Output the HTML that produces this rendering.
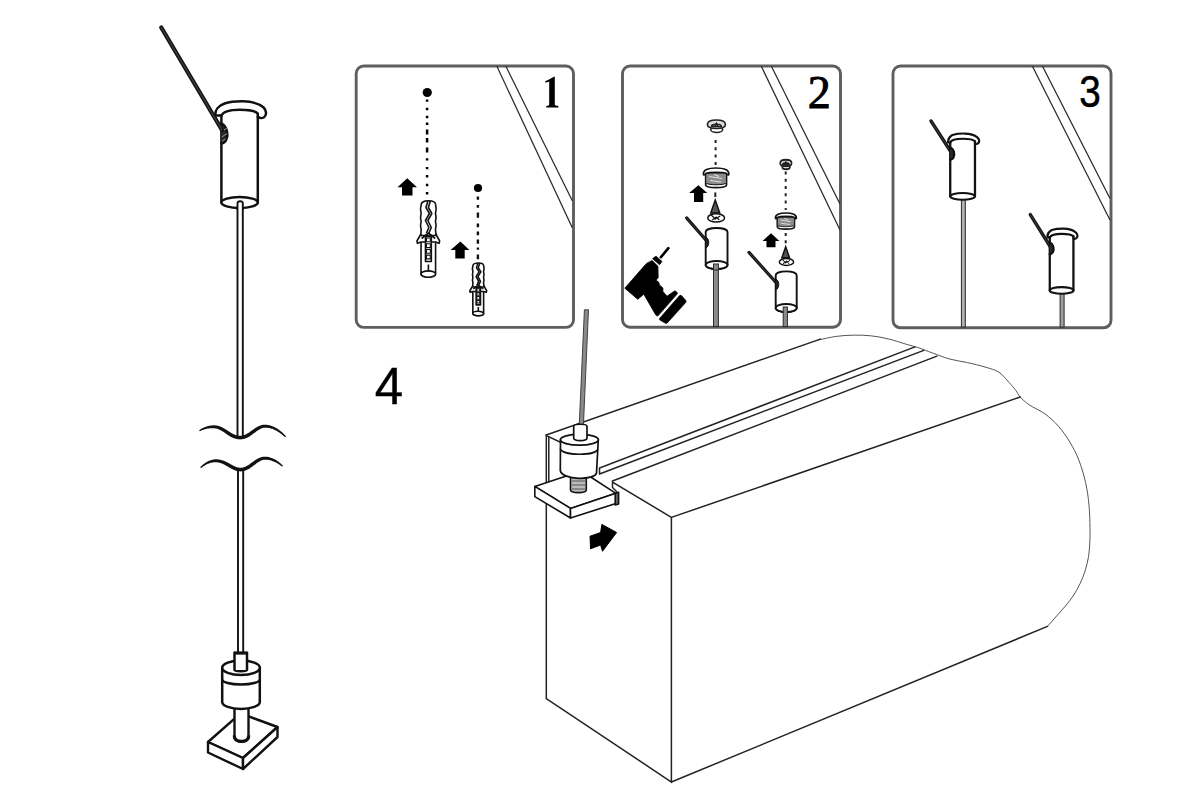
<!DOCTYPE html>
<html><head><meta charset="utf-8"><style>
html,body{margin:0;padding:0;background:#fff;}
body{width:1200px;height:800px;overflow:hidden;font-family:"Liberation Sans",sans-serif;}
svg{display:block;}
</style></head><body>
<svg width="1200" height="800" viewBox="0 0 1200 800">
<rect width="1200" height="800" fill="#fff"/>
<path d="M 237.5,437 L 237.5,203 C 237.5,200.5 242.8,200.5 242.8,203 L 242.8,437" stroke="#111" stroke-width="1.9" fill="none"/>
<g transform="translate(239.6,110) scale(1.0,1.0)" stroke="#111" stroke-width="2.50" fill="#fff" stroke-linejoin="round" stroke-linecap="round"><path d="M -18.2,4 L -18.2,92.5 A 18.2,5.5 0 0 0 18.2,92.5 L 18.2,3.5 Z" stroke="none"/><path d="M -18.2,5.5 L -18.2,92.5 M 18.2,3.7 L 18.2,92.5" fill="none"/><ellipse cx="0" cy="92.5" rx="18.2" ry="5.5"/><path d="M -18.2,5.6 L -24.30,5.6 C -24.80,0 -21.00,-4.5 -15,-6.5 C -9,-8.5 -2,-8.8 3,-8.75 C 12,-8.6 20.00,-6 24.00,-2.5 C 27.00,0.5 27.00,4.5 25.00,6.8 C 23.50,8.5 20.50,8.5 18.2,6.9" fill="none"/><path d="M -18.2,5.5 C -16,0.8 -8,-0.3 0,-0.3 C 8,-0.3 16,0.8 18.2,3.75" fill="none"/><path d="M -18.4,13.5 C -12.5,16 -11,25 -13.5,30 C -15,32.5 -17,33.5 -18.4,33" fill="#2a2a2a"/><path d="M -17.2,21 L -13.2,18.5 M -17.2,26.5 L -12.8,23.8 M -17,31 L -14.2,29" stroke="#bbb" stroke-width="0.8" fill="none"/></g>
<line x1="161.25" y1="27.5" x2="222" y2="130" stroke="#151515" stroke-width="4.3" stroke-linecap="round"/>
<line x1="161.25" y1="27.5" x2="222" y2="130" stroke="#444" stroke-width="1.07" stroke-linecap="round"/>
<path d="M 237.5,210 L 237.5,203.5 C 237.5,200.5 242.8,200.5 242.8,203.5 L 242.8,210" stroke="#111" stroke-width="1.9" fill="#fff"/>
<path d="M 199.70,431.32 L 200.29,431.06 L 200.85,430.80 L 201.41,430.55 L 201.96,430.32 L 202.51,430.10 L 203.04,429.89 L 203.58,429.70 L 204.10,429.52 L 204.62,429.36 L 205.14,429.20 L 205.65,429.06 L 206.15,428.93 L 206.65,428.81 L 207.15,428.71 L 207.64,428.61 L 208.12,428.53 L 208.60,428.45 L 209.07,428.39 L 209.54,428.34 L 210.01,428.29 L 210.47,428.26 L 210.93,428.23 L 211.38,428.21 L 211.83,428.20 L 212.27,428.20 L 212.71,428.21 L 213.15,428.22 L 213.58,428.25 L 214.01,428.27 L 214.38,428.30 L 215.28,428.42 L 216.14,428.58 L 216.98,428.79 L 217.80,429.04 L 218.61,429.34 L 219.40,429.67 L 220.18,430.05 L 220.95,430.45 L 221.71,430.88 L 222.48,431.34 L 223.23,431.83 L 223.99,432.32 L 224.75,432.84 L 225.52,433.36 L 226.29,433.89 L 227.06,434.43 L 227.85,434.96 L 228.65,435.48 L 229.46,435.99 L 230.29,436.49 L 231.14,436.97 L 232.01,437.42 L 232.91,437.83 L 233.83,438.22 L 234.78,438.55 L 235.77,438.84 L 236.78,439.08 L 237.82,439.25 L 238.90,439.36 L 240.00,439.40 L 241.12,439.36 L 242.21,439.23 L 243.27,439.04 L 244.30,438.77 L 245.30,438.44 L 246.27,438.06 L 247.20,437.64 L 248.11,437.17 L 249.00,436.67 L 249.86,436.14 L 250.70,435.60 L 251.52,435.03 L 252.33,434.45 L 253.12,433.87 L 253.90,433.29 L 254.66,432.71 L 255.42,432.15 L 256.17,431.60 L 256.91,431.06 L 257.65,430.56 L 258.38,430.08 L 259.11,429.63 L 259.84,429.22 L 260.57,428.86 L 261.29,428.53 L 262.02,428.26 L 262.75,428.04 L 263.49,427.87 L 264.24,427.76 L 265.02,427.71 L 265.74,427.70 L 266.47,427.73 L 267.20,427.78 L 267.92,427.86 L 268.65,427.96 L 269.36,428.09 L 270.08,428.25 L 270.78,428.43 L 271.49,428.64 L 272.19,428.87 L 272.89,429.12 L 273.58,429.39 L 274.27,429.69 L 274.95,430.01 L 275.63,430.35 L 276.31,430.70 L 276.98,431.08 L 277.64,431.47 L 278.30,431.89 L 278.95,432.32 L 279.60,432.76 L 280.24,433.22 L 280.88,433.69 L 281.50,434.18 L 282.13,434.68 L 282.74,435.19 L 283.35,435.71 L 283.96,436.24 L 284.56,436.78 L 285.17,437.32 L 286.03,436.48 L 285.51,435.85 L 284.96,435.23 L 284.40,434.62 L 283.83,434.02 L 283.24,433.44 L 282.65,432.86 L 282.04,432.30 L 281.42,431.75 L 280.79,431.21 L 280.14,430.69 L 279.49,430.18 L 278.83,429.69 L 278.15,429.22 L 277.46,428.77 L 276.77,428.33 L 276.06,427.91 L 275.34,427.52 L 274.61,427.14 L 273.87,426.79 L 273.11,426.46 L 272.35,426.15 L 271.57,425.88 L 270.79,425.62 L 269.99,425.40 L 269.18,425.20 L 268.37,425.04 L 267.54,424.90 L 266.70,424.80 L 265.86,424.73 L 264.98,424.69 L 263.98,424.71 L 262.99,424.82 L 262.02,425.00 L 261.07,425.25 L 260.14,425.55 L 259.24,425.91 L 258.36,426.32 L 257.50,426.77 L 256.66,427.25 L 255.83,427.76 L 255.02,428.28 L 254.21,428.83 L 253.42,429.39 L 252.63,429.95 L 251.85,430.51 L 251.08,431.07 L 250.30,431.61 L 249.53,432.14 L 248.76,432.66 L 247.99,433.14 L 247.22,433.60 L 246.44,434.03 L 245.67,434.42 L 244.88,434.77 L 244.10,435.07 L 243.30,435.32 L 242.50,435.53 L 241.68,435.68 L 240.85,435.77 L 240.00,435.80 L 239.13,435.77 L 238.29,435.69 L 237.47,435.55 L 236.67,435.37 L 235.88,435.14 L 235.10,434.87 L 234.33,434.56 L 233.56,434.21 L 232.80,433.83 L 232.04,433.42 L 231.28,432.98 L 230.52,432.52 L 229.76,432.04 L 228.99,431.54 L 228.21,431.03 L 227.43,430.52 L 226.64,430.00 L 225.84,429.48 L 225.02,428.98 L 224.19,428.48 L 223.34,428.00 L 222.47,427.54 L 221.58,427.11 L 220.67,426.71 L 219.73,426.35 L 218.76,426.03 L 217.77,425.76 L 216.74,425.54 L 215.69,425.39 L 214.62,425.30 L 214.09,425.29 L 213.61,425.30 L 213.12,425.32 L 212.64,425.35 L 212.15,425.39 L 211.65,425.44 L 211.16,425.50 L 210.66,425.57 L 210.16,425.65 L 209.65,425.74 L 209.14,425.84 L 208.63,425.95 L 208.12,426.08 L 207.61,426.21 L 207.09,426.36 L 206.57,426.53 L 206.05,426.70 L 205.52,426.89 L 205.00,427.09 L 204.47,427.30 L 203.94,427.53 L 203.40,427.77 L 202.87,428.03 L 202.33,428.30 L 201.80,428.59 L 201.26,428.89 L 200.71,429.21 L 200.17,429.54 L 199.63,429.90 L 199.10,430.28 Z" fill="#111"/>
<path d="M 200.99,468.05 L 201.57,467.63 L 202.13,467.23 L 202.68,466.83 L 203.22,466.46 L 203.76,466.10 L 204.30,465.76 L 204.83,465.44 L 205.35,465.13 L 205.87,464.84 L 206.39,464.57 L 206.90,464.32 L 207.41,464.08 L 207.91,463.86 L 208.41,463.65 L 208.91,463.46 L 209.40,463.29 L 209.89,463.13 L 210.37,462.98 L 210.86,462.85 L 211.34,462.74 L 211.81,462.64 L 212.28,462.55 L 212.75,462.47 L 213.22,462.41 L 213.69,462.36 L 214.15,462.33 L 214.62,462.31 L 215.08,462.29 L 215.54,462.30 L 215.98,462.31 L 216.90,462.35 L 217.77,462.45 L 218.62,462.59 L 219.46,462.77 L 220.27,462.99 L 221.08,463.25 L 221.87,463.54 L 222.65,463.86 L 223.42,464.21 L 224.18,464.58 L 224.94,464.98 L 225.70,465.39 L 226.46,465.82 L 227.21,466.25 L 227.97,466.70 L 228.72,467.14 L 229.49,467.59 L 230.25,468.03 L 231.03,468.47 L 231.81,468.89 L 232.61,469.30 L 233.42,469.68 L 234.25,470.04 L 235.10,470.37 L 235.96,470.66 L 236.84,470.91 L 237.75,471.12 L 238.68,471.27 L 239.63,471.37 L 240.61,471.40 L 241.67,471.36 L 242.72,471.23 L 243.73,471.03 L 244.72,470.76 L 245.67,470.43 L 246.60,470.05 L 247.50,469.62 L 248.38,469.16 L 249.23,468.66 L 250.06,468.13 L 250.87,467.58 L 251.67,467.02 L 252.45,466.44 L 253.22,465.86 L 253.98,465.28 L 254.74,464.71 L 255.48,464.14 L 256.22,463.59 L 256.95,463.06 L 257.68,462.55 L 258.40,462.07 L 259.13,461.63 L 259.85,461.22 L 260.57,460.86 L 261.30,460.53 L 262.02,460.26 L 262.75,460.04 L 263.49,459.87 L 264.24,459.76 L 265.02,459.71 L 265.64,459.70 L 266.28,459.72 L 266.92,459.75 L 267.55,459.81 L 268.17,459.89 L 268.79,459.98 L 269.41,460.10 L 270.02,460.24 L 270.63,460.39 L 271.23,460.56 L 271.83,460.75 L 272.42,460.95 L 273.01,461.17 L 273.59,461.41 L 274.17,461.66 L 274.74,461.92 L 275.31,462.20 L 275.87,462.49 L 276.42,462.79 L 276.97,463.10 L 277.51,463.43 L 278.04,463.76 L 278.57,464.10 L 279.09,464.45 L 279.61,464.80 L 280.11,465.16 L 280.61,465.53 L 281.11,465.90 L 281.60,466.27 L 282.09,466.64 L 282.91,465.76 L 282.49,465.29 L 282.05,464.83 L 281.60,464.38 L 281.13,463.93 L 280.65,463.50 L 280.16,463.06 L 279.65,462.64 L 279.14,462.22 L 278.61,461.81 L 278.07,461.42 L 277.52,461.03 L 276.96,460.65 L 276.38,460.28 L 275.80,459.93 L 275.21,459.59 L 274.60,459.27 L 273.98,458.95 L 273.36,458.66 L 272.72,458.38 L 272.07,458.12 L 271.41,457.88 L 270.73,457.66 L 270.05,457.45 L 269.36,457.27 L 268.66,457.12 L 267.95,456.98 L 267.22,456.87 L 266.49,456.78 L 265.75,456.72 L 264.98,456.69 L 263.98,456.71 L 262.99,456.82 L 262.02,457.00 L 261.07,457.25 L 260.15,457.55 L 259.24,457.92 L 258.37,458.32 L 257.51,458.77 L 256.67,459.25 L 255.85,459.76 L 255.04,460.29 L 254.24,460.84 L 253.46,461.39 L 252.68,461.96 L 251.92,462.52 L 251.15,463.08 L 250.40,463.62 L 249.64,464.16 L 248.89,464.67 L 248.15,465.16 L 247.40,465.62 L 246.65,466.04 L 245.91,466.43 L 245.16,466.78 L 244.42,467.08 L 243.67,467.33 L 242.92,467.53 L 242.16,467.68 L 241.39,467.77 L 240.59,467.80 L 239.87,467.78 L 239.15,467.70 L 238.43,467.59 L 237.72,467.43 L 237.01,467.24 L 236.30,467.00 L 235.59,466.73 L 234.88,466.43 L 234.16,466.10 L 233.43,465.75 L 232.70,465.37 L 231.96,464.97 L 231.21,464.56 L 230.45,464.13 L 229.68,463.70 L 228.90,463.27 L 228.11,462.83 L 227.30,462.40 L 226.48,461.98 L 225.64,461.58 L 224.78,461.19 L 223.90,460.82 L 223.00,460.49 L 222.07,460.18 L 221.12,459.91 L 220.15,459.69 L 219.15,459.50 L 218.12,459.38 L 217.07,459.30 L 216.02,459.29 L 215.46,459.32 L 214.92,459.36 L 214.38,459.42 L 213.84,459.49 L 213.31,459.58 L 212.77,459.68 L 212.23,459.80 L 211.70,459.94 L 211.17,460.09 L 210.64,460.26 L 210.10,460.44 L 209.57,460.64 L 209.05,460.86 L 208.52,461.09 L 207.99,461.34 L 207.47,461.60 L 206.94,461.89 L 206.42,462.19 L 205.90,462.50 L 205.37,462.83 L 204.85,463.18 L 204.33,463.55 L 203.81,463.94 L 203.29,464.34 L 202.77,464.76 L 202.25,465.20 L 201.74,465.65 L 201.22,466.13 L 200.71,466.62 L 200.21,467.15 Z" fill="#111"/>
<path d="M 238,469 L 238,653 M 243.2,469 L 243.2,653" stroke="#111" stroke-width="1.9" fill="none"/>
<g stroke="#111" stroke-width="2.4" fill="#fff" stroke-linejoin="round"><path d="M 208,742 L 240.5,713.4 L 277.5,727 L 243,758 Z"/><path d="M 208,742 L 243,758 L 243,769 L 208,752.5 Z"/><path d="M 243,758 L 277.5,727 L 277.5,737 L 243,769 Z"/></g>
<path d="M 234.5,706 L 234.5,737.5 C 234.5,743 248.5,743 248.5,737.5 L 248.5,706" stroke="#111" stroke-width="2.4" fill="#fff"/>
<path d="M 234.2,735.5 C 234.2,743.3 248.8,743.3 248.8,735.5" stroke="#111" stroke-width="3.2" fill="none"/>
<g stroke="#111" stroke-width="2.5" fill="#fff"><path d="M 222.2,667.75 L 222.2,702 A 18.8,7 0 0 0 259.8,702 L 259.8,667.75 Z"/><ellipse cx="241" cy="667.75" rx="18.8" ry="7.25"/><path d="M 222.2,679.5 A 18.8,5 0 0 0 259.8,679.5" fill="none"/><path d="M 234.5,670 L 234.5,653 L 247,653 L 247,670 C 247,671.5 234.5,671.5 234.5,670 Z"/></g>
<rect x="234" y="651.5" width="13.5" height="3" fill="#111"/>
<rect x="356.2" y="66" width="217.3" height="261.4" rx="7.5" ry="7.5" fill="none" stroke="#5e5e5e" stroke-width="2.9"/>
<line x1="496.9" y1="66.3" x2="572.3" y2="227.8" stroke="#2a2a2a" stroke-width="1.25"/>
<line x1="505.9" y1="66.3" x2="572.3" y2="200.8" stroke="#2a2a2a" stroke-width="1.25"/>
<rect x="622.5" y="66" width="218.0" height="261.2" rx="7.5" ry="7.5" fill="none" stroke="#5e5e5e" stroke-width="2.9"/>
<line x1="761.3" y1="66.3" x2="840" y2="230" stroke="#2a2a2a" stroke-width="1.25"/>
<line x1="771.4" y1="66.3" x2="840" y2="204" stroke="#2a2a2a" stroke-width="1.25"/>
<rect x="893" y="66" width="218" height="261.8" rx="7.5" ry="7.5" fill="none" stroke="#5e5e5e" stroke-width="2.9"/>
<line x1="1032.4" y1="66.3" x2="1110" y2="220" stroke="#2a2a2a" stroke-width="1.25"/>
<line x1="1042.5" y1="66.3" x2="1110" y2="198.5" stroke="#2a2a2a" stroke-width="1.25"/>
<path d="M 553.8,76.8 L 554.8,76.8 L 554.8,104.3 C 554.8,105.3 556,105.8 558.4,106.1 L 558.4,107.6 L 546.3,107.6 L 546.3,106.1 C 548.2,105.8 549.2,105.3 549.2,104.3 L 549.2,81.6 C 548.2,82.1 546.8,82.6 545.4,82.5 L 545.2,81.2 C 548,80 551,78.5 553.8,76.8 Z" fill="#000"/>
<text x="807.7" y="107.5" font-family="Liberation Serif, serif" font-size="46" fill="#000" stroke="#000" stroke-width="0.9">2</text>
<g transform="translate(1080.2,106.9) scale(0.9,1.03)"><text x="-1" y="0" font-family="Liberation Sans, sans-serif" font-size="43" fill="#000" stroke="#000" stroke-width="0.5">3</text></g>
<text x="374.8" y="403.8" font-family="Liberation Sans, sans-serif" font-size="51" fill="#000" stroke="#000" stroke-width="0.4">4</text>
<circle cx="427.25" cy="92.5" r="4.6" fill="#000"/>
<path d="M 427.1,99.4 L 427.1,101.8 M 427.1,107.8 L 427.1,110.2 M 427.1,115.8 L 427.1,118.2 M 427.1,122.5 L 427.1,125 M 427.1,129.4 L 427.1,134.4 M 427.1,138 L 427.1,142.5 M 427.1,147.5 L 427.1,152.5 M 427.1,158.2 L 427.1,160.6 M 427.1,166.9 L 427.1,169.3 M 427.1,175 L 427.1,177.5 M 427.1,183.8 L 427.1,186.2 M 427.1,192 L 427.1,194.5" stroke="#000" stroke-width="2.5"/>
<polygon points="407.25,178.25 417,187.25 412.5,187.25 412.5,195.5 402,195.5 402,187.25 397.5,187.25" fill="#000"/>
<circle cx="478" cy="188" r="4.1" fill="#000"/>
<path d="M 477.9,196.5 L 477.9,199.7 M 477.9,205 L 477.9,207.7 M 477.9,212.4 L 477.9,217.8 M 477.9,223.6 L 477.9,227.3 M 477.9,231.6 L 477.9,235.3 M 477.9,239.6 L 477.9,243.8 M 477.9,247.6 L 477.9,249.7 M 477.9,254.5 L 477.9,259.3" stroke="#111" stroke-width="2.4"/>
<polygon points="460.4,241.6 469.4,250 464.7,250 464.7,258.4 455.3,258.4 455.3,250 450.6,250" fill="#000"/>
<g transform="translate(428.4,200.5) scale(0.97,1.0)" stroke="#111" stroke-width="1.65" fill="#fff" stroke-linejoin="round"><path d="M -7.6,40 L -7.6,73.5 A 7.5,3.2 0 0 0 7.4,73.5 L 7.4,40 Z"/><ellipse cx="-0.1" cy="73.5" rx="7.5" ry="3.2"/><path d="M -7.4,33 L -11.8,40.5 L -11.3,42.8 L -7.6,41.5 L 7.4,41.5 L 11.1,42.8 L 11.6,40.5 L 7.4,33 Z"/><path d="M -7.4,35 C -8.6,32 -6.6,30 -7.8,27 C -9,24 -6.6,22 -7.8,19 C -9,16 -6.6,14 -7.8,11 C -9,8 -7.4,6 -7.4,4 C -7.4,-1 7.4,-1 7.4,4 C 7.4,6 8.8,8 7.6,11 C 6.4,14 8.8,16 7.6,19 C 6.4,22 8.8,24 7.6,27 C 6.4,30 8.6,32 7.4,35 Z"/><path d="M -0.5,0.5 L -2.5,7 L 1,13 L -3,20 L 0.5,27 L -2,32.5" fill="none"/><path d="M 2,0.5 L 0,7 L 3.5,13 L -0.5,20 L 3,27 L 0.5,32.5" fill="none"/><path d="M -7,38 L 0,32.5 L 7,38" fill="none"/><rect x="-3" y="36" width="6" height="25" fill="#fff"/><rect x="-2" y="37.5" width="4" height="3.8" fill="#fff" stroke-width="1.13"/><rect x="-2" y="43.2" width="4" height="3.8" fill="#fff" stroke-width="1.13"/><rect x="-2" y="48.9" width="4" height="3.8" fill="#fff" stroke-width="1.13"/><rect x="-2" y="54.6" width="4" height="3.8" fill="#fff" stroke-width="1.13"/><line x1="0" y1="64" x2="0" y2="71" /></g>
<g transform="translate(478.3,262.8) scale(0.72,0.69)" stroke="#111" stroke-width="2.22" fill="#fff" stroke-linejoin="round"><path d="M -7.6,40 L -7.6,73.5 A 7.5,3.2 0 0 0 7.4,73.5 L 7.4,40 Z"/><ellipse cx="-0.1" cy="73.5" rx="7.5" ry="3.2"/><path d="M -7.4,33 L -11.8,40.5 L -11.3,42.8 L -7.6,41.5 L 7.4,41.5 L 11.1,42.8 L 11.6,40.5 L 7.4,33 Z"/><path d="M -7.4,35 C -8.6,32 -6.6,30 -7.8,27 C -9,24 -6.6,22 -7.8,19 C -9,16 -6.6,14 -7.8,11 C -9,8 -7.4,6 -7.4,4 C -7.4,-1 7.4,-1 7.4,4 C 7.4,6 8.8,8 7.6,11 C 6.4,14 8.8,16 7.6,19 C 6.4,22 8.8,24 7.6,27 C 6.4,30 8.6,32 7.4,35 Z"/><path d="M -0.5,0.5 L -2.5,7 L 1,13 L -3,20 L 0.5,27 L -2,32.5" fill="none"/><path d="M 2,0.5 L 0,7 L 3.5,13 L -0.5,20 L 3,27 L 0.5,32.5" fill="none"/><path d="M -7,38 L 0,32.5 L 7,38" fill="none"/><rect x="-3" y="36" width="6" height="25" fill="#fff"/><rect x="-2" y="37.5" width="4" height="3.8" fill="#fff" stroke-width="1.53"/><rect x="-2" y="43.2" width="4" height="3.8" fill="#fff" stroke-width="1.53"/><rect x="-2" y="48.9" width="4" height="3.8" fill="#fff" stroke-width="1.53"/><rect x="-2" y="54.6" width="4" height="3.8" fill="#fff" stroke-width="1.53"/><line x1="0" y1="64" x2="0" y2="71" /></g>
<g transform="translate(716.4,124.5) scale(1.0,1.0)" stroke="#222" stroke-width="1.60" fill="#fff"><ellipse cx="0.3" cy="5" rx="6" ry="3"/><path d="M -9,0 C -9,-3 -5,-4.5 0,-4.5 C 5,-4.5 9,-3 9,0 C 9,2.5 5,4 0,4 C -5,4 -9,2.5 -9,0 Z" fill="#ddd"/><path d="M -5,2 C -5,-1 5,-1 5,2 Z" fill="#fff"/><path d="M -1.5,2 L 0,-1 L 1.5,2" fill="none"/></g>
<line x1="715.6" y1="140" x2="715.6" y2="166" stroke="#222" stroke-width="2" stroke-dasharray="3 4.3"/>
<g transform="translate(716.1,168) scale(1.0)" stroke="#111" stroke-width="1.70" fill="#fff" stroke-linejoin="round"><path d="M -10.4,5 L -10.4,17 C -10.4,20.5 10.4,20.5 10.4,17 L 10.4,5 Z" fill="#fff"/><path d="M -10.4,5 L -10.4,14.5 C -10.4,17.5 10.4,17.5 10.4,14.5 L 10.4,5 Z" fill="#8c8c8c" stroke-width="1"/><path d="M -7,8.5 L 6,10.5 M -6,12.5 L 5,14 M -2,6.5 L 3,8.5" stroke="#e0e0e0" stroke-width="1.1"/><path d="M -12.7,6.5 C -13.2,2 -8,0 0,0 C 8,0 13.2,2 12.7,6.5 C 11.5,7.5 10.5,6 10.4,5.5 C 7,3.8 -7,3.8 -10.4,5.5 C -10.5,6 -11.5,7.5 -12.7,6.5 Z"/></g>
<line x1="715.3" y1="192.4" x2="715.3" y2="197" stroke="#222" stroke-width="2"/>
<polygon points="698.4,185.2 707.3,193.1 703.2,193.1 703.2,202 694,202 694,193.1 689.1,193.1" fill="#000"/>
<g transform="translate(715.25,200) scale(1.0)" stroke="#111" stroke-width="1.50" fill="#fff"><path d="M 0,0 L -4.5,13 L 4.5,13 Z" fill="#555"/><ellipse cx="0.9" cy="17.9" rx="8.4" ry="4.1"/><path d="M -4,15 L 0,19 L 5,16 M -3,20 L 1,17 L 4,20" fill="none" stroke-width="1.2"/></g>
<g transform="translate(785.9,163.2) scale(0.64,0.76)" stroke="#222" stroke-width="2.50" fill="#fff"><ellipse cx="0.3" cy="5" rx="6" ry="3"/><path d="M -9,0 C -9,-3 -5,-4.5 0,-4.5 C 5,-4.5 9,-3 9,0 C 9,2.5 5,4 0,4 C -5,4 -9,2.5 -9,0 Z" fill="#ddd"/><path d="M -5,2 C -5,-1 5,-1 5,2 Z" fill="#fff"/><path d="M -1.5,2 L 0,-1 L 1.5,2" fill="none"/></g>
<line x1="785.7" y1="171.4" x2="785.7" y2="210" stroke="#222" stroke-width="2" stroke-dasharray="3 4.3"/>
<g transform="translate(785.9,213) scale(0.82)" stroke="#111" stroke-width="2.07" fill="#fff" stroke-linejoin="round"><path d="M -10.4,5 L -10.4,17 C -10.4,20.5 10.4,20.5 10.4,17 L 10.4,5 Z" fill="#fff"/><path d="M -10.4,5 L -10.4,14.5 C -10.4,17.5 10.4,17.5 10.4,14.5 L 10.4,5 Z" fill="#8c8c8c" stroke-width="1"/><path d="M -7,8.5 L 6,10.5 M -6,12.5 L 5,14 M -2,6.5 L 3,8.5" stroke="#e0e0e0" stroke-width="1.1"/><path d="M -12.7,6.5 C -13.2,2 -8,0 0,0 C 8,0 13.2,2 12.7,6.5 C 11.5,7.5 10.5,6 10.4,5.5 C 7,3.8 -7,3.8 -10.4,5.5 C -10.5,6 -11.5,7.5 -12.7,6.5 Z"/></g>
<line x1="785.7" y1="233" x2="785.7" y2="245" stroke="#222" stroke-width="2" stroke-dasharray="3 4.3"/>
<polygon points="771,233.25 779.4,241 775.5,241 775.5,247.2 766.5,247.2 766.5,241 762.5,241" fill="#000"/>
<g transform="translate(785.7,246.75) scale(0.85)" stroke="#111" stroke-width="1.76" fill="#fff"><path d="M 0,0 L -4.5,13 L 4.5,13 Z" fill="#555"/><ellipse cx="0.9" cy="17.9" rx="8.4" ry="4.1"/><path d="M -4,15 L 0,19 L 5,16 M -3,20 L 1,17 L 4,20" fill="none" stroke-width="1.2"/></g>
<rect x="713.5" y="262" width="4.899999999999977" height="64.5" fill="#8a8a8a" stroke="#2a2a2a" stroke-width="1.0"/>
<line x1="686.6" y1="217.9" x2="708.5" y2="243" stroke="#151515" stroke-width="3.2" stroke-linecap="round"/>
<line x1="686.6" y1="217.9" x2="708.5" y2="243" stroke="#444" stroke-width="0.80" stroke-linecap="round"/>
<g stroke="#111" stroke-width="1.9" fill="#fff"><path d="M 705.7,232.1 C 705.7,226.6 727.5,226.6 727.5,232.1 L 727.5,265 A 10.9,4 0 0 1 705.7,265 Z"/><ellipse cx="716.6" cy="265" rx="10.9" ry="4"/></g>
<path d="M 705.7,237 C 709.2,238.5 709.7,244 707.2,247 L 705.7,248" fill="#222" stroke="#111" stroke-width="1"/>
<rect x="713.5" y="264" width="4.899999999999977" height="6" fill="#8a8a8a" stroke="#2a2a2a" stroke-width="1.0"/>
<line x1="749" y1="252.4" x2="778.25" y2="285" stroke="#151515" stroke-width="3.2" stroke-linecap="round"/>
<line x1="749" y1="252.4" x2="778.25" y2="285" stroke="#444" stroke-width="0.80" stroke-linecap="round"/>
<g stroke="#111" stroke-width="1.9" fill="#fff"><path d="M 775.7,275.5 C 775.7,270 796.7,270 796.7,275.5 L 796.7,308 A 10.5,4 0 0 1 775.7,308 Z"/><ellipse cx="786.2" cy="308" rx="10.5" ry="4"/></g>
<path d="M 775.7,279 C 779.2,280.5 779.7,286 777.2,289 L 775.7,290" fill="#222" stroke="#111" stroke-width="1"/>
<rect x="783.2" y="307" width="4.199999999999932" height="19.5" fill="#8a8a8a" stroke="#2a2a2a" stroke-width="1.0"/>
<g fill="#000" stroke="#000" stroke-width="0.8" stroke-linejoin="round">
<path d="M 624.8,288.2 L 645.1,265 C 646.5,263.3 648,262.3 649.5,261.9 L 652,260.5 L 657.9,266.2 L 658.2,277.5 L 656,280.3 L 658.6,282 L 659.5,285 L 662.9,288 L 662.9,291.4 L 667,296.2 L 674.2,291.2 C 675.5,290.6 676.5,291.5 677.6,293.4 L 658.2,315.6 C 657.3,316.2 656,315.6 655.4,314.3 L 643.8,294.2 L 637.8,299.3 Z"/>
<path d="M 659.8,318.2 L 679.4,295.8 C 680,295.2 681,295.2 681.6,295.8 L 685.6,300.3 C 686.2,301 686.2,302 685.6,302.6 L 667.2,323 C 666.6,323.6 665.6,323.6 665,323 L 659.8,319.9 C 659.4,319.4 659.4,318.7 659.8,318.2 Z"/>
<path d="M 652.6,258.6 L 656,256.2 L 662,261.5 L 659.5,264.7 Z"/>
</g>
<line x1="660.9" y1="257.2" x2="668.4" y2="248.2" stroke="#000" stroke-width="2.6" stroke-linecap="round"/>
<rect x="961.4" y="195" width="3.8999999999999773" height="132" fill="#b0b0b0" stroke="#2a2a2a" stroke-width="1.0"/>
<line x1="931" y1="121" x2="952" y2="153.5" stroke="#151515" stroke-width="3.4" stroke-linecap="round"/>
<line x1="931" y1="121" x2="952" y2="153.5" stroke="#444" stroke-width="0.85" stroke-linecap="round"/>
<g transform="translate(962.6,139) scale(0.68,0.62)" stroke="#111" stroke-width="3.39" fill="#fff" stroke-linejoin="round" stroke-linecap="round"><path d="M -18.2,4 L -18.2,92.5 A 18.2,5.5 0 0 0 18.2,92.5 L 18.2,3.5 Z" stroke="none"/><path d="M -18.2,5.5 L -18.2,92.5 M 18.2,3.7 L 18.2,92.5" fill="none"/><ellipse cx="0" cy="92.5" rx="18.2" ry="5.5"/><path d="M -18.2,5.6 L -21.20,5.6 C -21.70,0 -17.90,-4.5 -15,-6.5 C -9,-8.5 -2,-8.8 3,-8.75 C 12,-8.6 17.90,-6 21.90,-2.5 C 24.90,0.5 24.90,4.5 22.90,6.8 C 21.40,8.5 18.40,8.5 18.2,6.9" fill="none"/><path d="M -18.2,5.5 C -16,0.8 -8,-0.3 0,-0.3 C 8,-0.3 16,0.8 18.2,3.75" fill="none"/><path d="M -18.4,13.5 C -12.5,16 -11,25 -13.5,30 C -15,32.5 -17,33.5 -18.4,33" fill="#2a2a2a"/></g>
<rect x="1060.1" y="290" width="4.0" height="37" fill="#a0a0a0" stroke="#2a2a2a" stroke-width="1.0"/>
<line x1="1030.3" y1="214.6" x2="1050.5" y2="247" stroke="#151515" stroke-width="3.4" stroke-linecap="round"/>
<line x1="1030.3" y1="214.6" x2="1050.5" y2="247" stroke="#444" stroke-width="0.85" stroke-linecap="round"/>
<g transform="translate(1061.6,234) scale(0.65,0.61)" stroke="#111" stroke-width="3.49" fill="#fff" stroke-linejoin="round" stroke-linecap="round"><path d="M -18.2,4 L -18.2,92.5 A 18.2,5.5 0 0 0 18.2,92.5 L 18.2,3.5 Z" stroke="none"/><path d="M -18.2,5.5 L -18.2,92.5 M 18.2,3.7 L 18.2,92.5" fill="none"/><ellipse cx="0" cy="92.5" rx="18.2" ry="5.5"/><path d="M -18.2,5.6 L -21.70,5.6 C -22.20,0 -18.40,-4.5 -15,-6.5 C -9,-8.5 -2,-8.8 3,-8.75 C 12,-8.6 17.90,-6 21.90,-2.5 C 24.90,0.5 24.90,4.5 22.90,6.8 C 21.40,8.5 18.40,8.5 18.2,6.9" fill="none"/><path d="M -18.2,5.5 C -16,0.8 -8,-0.3 0,-0.3 C 8,-0.3 16,0.8 18.2,3.75" fill="none"/><path d="M -18.4,13.5 C -12.5,16 -11,25 -13.5,30 C -15,32.5 -17,33.5 -18.4,33" fill="#2a2a2a"/></g>
<path d="M 818.75,339.90 C 821.67,339.32 830.42,337.19 836.25,336.40 C 842.08,335.61 847.92,335.24 853.75,335.15 C 859.58,335.06 865.42,335.21 871.25,335.85 C 877.08,336.49 882.92,337.60 888.75,339.00 C 894.58,340.40 901.29,342.79 906.25,344.25 C 911.21,345.71 914.12,346.29 918.50,347.75 C 922.88,349.21 927.25,351.11 932.50,353.00 C 937.75,354.89 944.17,357.50 950.00,359.10 C 955.83,360.70 961.67,361.28 967.50,362.60 C 973.33,363.92 979.75,365.39 985.00,367.00 C 990.25,368.61 995.00,369.68 999.00,372.25 C 1003.00,374.82 1006.21,379.39 1009.00,382.40 C 1011.79,385.41 1013.88,387.87 1015.75,390.30 C 1017.62,392.73 1017.99,394.57 1020.25,397.00 C 1022.51,399.43 1025.17,402.08 1029.30,404.90 C 1033.42,407.72 1040.13,410.33 1045.00,413.90 C 1049.87,417.47 1054.37,421.62 1058.50,426.30 C 1062.63,430.98 1066.42,436.38 1069.80,442.00 C 1073.18,447.62 1076.17,453.23 1078.80,460.00 C 1081.43,466.77 1083.90,475.10 1085.60,482.60 C 1087.30,490.10 1088.27,497.50 1089.00,505.00 C 1089.73,512.50 1089.87,521.43 1090.00,527.60 C 1090.13,533.77 1090.03,537.23 1089.80,542.00 C 1089.57,546.77 1089.40,551.38 1088.60,556.25 C 1087.80,561.12 1086.43,566.67 1085.00,571.25 C 1083.57,575.83 1081.88,579.79 1080.00,583.75 C 1078.12,587.71 1076.04,591.46 1073.75,595.00 C 1071.46,598.54 1068.96,601.67 1066.25,605.00 C 1063.54,608.33 1060.62,611.43 1057.50,615.00 C 1054.38,618.57 1049.17,624.50 1047.50,626.40 " stroke="#555" stroke-width="1.0" fill="none"/>
<path d="M 546.25,435 L 820.4,339.1" stroke="#222" stroke-width="1.5" fill="none" stroke-linecap="round"/>
<path d="M 671.4,517.4 L 1020.25,397" stroke="#222" stroke-width="1.5" fill="none" stroke-linecap="round"/>
<path d="M 671.4,782 L 1047.5,626.4" stroke="#222" stroke-width="1.5" fill="none" stroke-linecap="round"/>
<path d="M 546.3,498 L 546.3,698.6 L 671.4,782 L 671.4,517.4 L 612.5,482 L 612.5,487.5 L 616.5,491.5" stroke="#222" stroke-width="1.5" fill="none" stroke-linecap="round"/>
<path d="M 546.3,435 L 546.3,486 M 548.8,437 L 548.8,482" stroke="#222" stroke-width="1.5" fill="none" stroke-linecap="round"/>
<path d="M 599.5,474 L 599.5,468 L 915,346.9 M 599.5,474 L 923.75,350.4 M 612.5,481 L 936.9,356.15" stroke="#222" stroke-width="1.5" fill="none" stroke-linecap="round"/>
<path d="M 546.5,435.6 L 562,443" stroke="#222" stroke-width="1.5" fill="none" stroke-linecap="round"/>
<g stroke="#111" stroke-width="1.6" fill="#fff" stroke-linejoin="round"><path d="M 534.8,486.4 L 581.4,471 L 615.9,493.3 L 570.5,508.4 Z"/><path d="M 534.8,486.4 L 570.5,508.4 L 570.5,518 L 534.8,496.6 Z"/><path d="M 570.5,508.4 L 615.9,493.3 L 615.9,503.5 L 570.5,518 Z"/><path d="M 615.2,493.3 L 618.6,492.2 L 618.6,504 L 615.2,505 Z" fill="#666"/></g>
<path d="M 570.5,472 L 570.5,490 C 570.5,493.5 586.3,493.5 586.3,490 L 586.3,472 Z" stroke="#111" stroke-width="1.6" fill="#bbb"/>
<path d="M 572,481 L 585,481 M 572,485 L 585,485 M 572,489 L 585,489" stroke="#555" stroke-width="1"/>
<polygon points="584.4,309.8 588.5,309.8 583.4,426 579.2,426" fill="#8a8a8a" stroke="#333" stroke-width="0.9"/>
<g stroke="#111" stroke-width="1.7" fill="#fff"><path d="M 560.5,439.7 L 560.3,470.5 C 562,480.5 595,480.5 596.5,473 L 598.3,439.7 Z"/><ellipse cx="579.4" cy="439.7" rx="18.9" ry="5.5"/><path d="M 560.2,448.7 C 563,456 595,456 597.8,449.4" fill="none"/><path d="M 573.7,438 L 573.7,426.5 C 573.7,423.5 587,423.5 587,426.5 L 587,438 C 587,441.5 573.7,441.5 573.7,438 Z"/></g>
<polygon points="590,536.25 600.6,532.5 601.9,524.4 616.6,532.5 602.5,551.25 600.6,545 590.6,548.75" fill="#000" stroke="#000" stroke-width="1" stroke-linejoin="round"/>
</svg>
</body></html>
